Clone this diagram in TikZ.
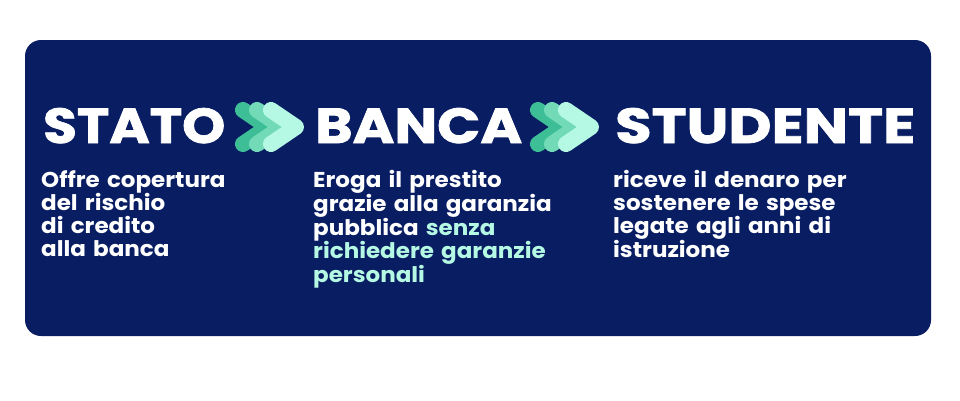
\documentclass[tikz,border=0pt]{standalone}
\usepackage{fontspec}
\setmainfont{Poppins}
\newfontfamily\bodyfont{Poppins}[FakeStretch=1.07]
\newfontfamily\headfont{Poppins}[BoldFeatures={FakeBold=1.5}]
\definecolor{navy}{RGB}{9,29,99}
\definecolor{chevA}{RGB}{61,190,150}
\definecolor{chevB}{RGB}{115,218,184}
\definecolor{chevC}{RGB}{181,248,227}
\definecolor{mint}{RGB}{181,248,227}
\newcommand{\headtext}[2]{\resizebox{#1}{35pt}{\headfont\bfseries #2}}
\tikzset{
  heading/.style={anchor=base west, inner sep=0pt, text=white},
  body/.style={anchor=base west, inner sep=0pt, text=white, align=left, text width=#1,
    font=\bodyfont\fontsize{21.5}{23}\selectfont\bfseries},
  chev/.style={line width=16pt, line cap=round, line join=round},
}
\begin{document}
\begin{tikzpicture}[x=1pt,y=-1pt]
\useasboundingbox (0,0) rectangle (960,400);
\fill[navy, rounded corners=16pt] (25,40) rectangle (931,336);
% chevrons
\foreach \dx/\c in {0/chevA,14/chevB,28/chevC}{
  \draw[chev, \c] (243+\dx,110) -- (268+\dx,127) -- (243+\dx,144);
  \draw[chev, \c] (538+\dx,110) -- (563+\dx,127) -- (538+\dx,144);
}
\node[heading] (h1) at (43,143) {\headtext{182pt}{STATO}};
\node[heading] (h2) at (315,143) {\headtext{207pt}{BANCA}};
\node[heading] (h3) at (615,143) {\headtext{300pt}{STUDENTE}};
\node[body=260pt] (b1) at (41,187) {Offre copertura\\del rischio\\di credito\\alla banca};
\node[body=290pt] (b2) at (313,187) {Eroga il prestito\\grazie alla garanzia\\pubblica \textcolor{mint}{senza}\\\textcolor{mint}{richiedere garanzie}\\\textcolor{mint}{personali}};
\node[body=300pt] (b3) at (613,187) {riceve il denaro per\\sostenere le spese\\legate agli anni di\\istruzione};
\end{tikzpicture}
\end{document}
